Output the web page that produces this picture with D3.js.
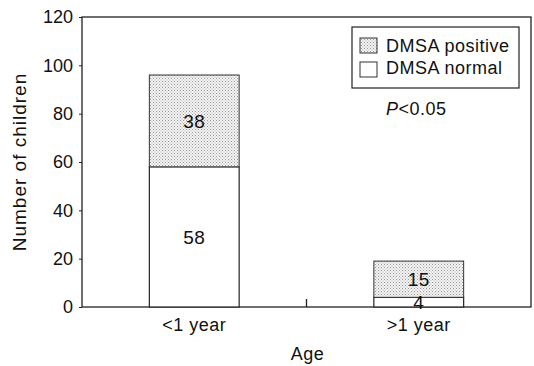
<!DOCTYPE html>
<html lang="en">
<head>
<meta charset="utf-8">
<title>DMSA by age</title>
<script src="https://cdn.jsdelivr.net/npm/d3@7"></script>
<style>
  body { margin: 0; background: #fff; }
  text { font-family: "Liberation Sans", Arial, sans-serif; fill: #111; letter-spacing: 0.5px; }
</style>
</head>
<body>
<script>
// data
var ages = ["<1 year", ">1 year"];
var normal = [58, 4];
var positive = [38, 15];
var yTicks = [0, 20, 40, 60, 80, 100, 120];
var legendLabels = ["DMSA positive", "DMSA normal"];

var w = 534, h = 366;
var plotLeft = 82, plotRight = 531, plotTop = 17, plotBottom = 307;

var svg = d3.select("body").append("svg")
  .attr("width", w)
  .attr("height", h);

// stipple pattern for the positive part
var defs = svg.append("defs");
var pat = defs.append("pattern")
  .attr("id", "dots")
  .attr("width", 3).attr("height", 3)
  .attr("patternUnits", "userSpaceOnUse");
pat.append("rect").attr("width", 3).attr("height", 3).attr("fill", "#f2f2f2");
pat.append("rect").attr("x", 0).attr("y", 0).attr("width", 1).attr("height", 1).attr("fill", "#9a9a9a");
pat.append("rect").attr("x", 1.5).attr("y", 1.5).attr("width", 1).attr("height", 1).attr("fill", "#b5b5b5");

var x = d3.scaleBand().domain(ages).range([plotLeft, plotRight])
  .paddingInner(0.6).paddingOuter(0.3);
var y = d3.scaleLinear().domain([0, 120]).range([plotBottom, plotTop]);

// frame
svg.append("rect")
  .attr("x", plotLeft).attr("y", plotTop)
  .attr("width", plotRight - plotLeft).attr("height", plotBottom - plotTop)
  .attr("fill", "none").attr("stroke", "#222").attr("stroke-width", 1.3);

// y axis
var yAxis = svg.append("g")
  .attr("transform", "translate(" + plotLeft + ",0)")
  .call(d3.axisLeft(y).tickValues(yTicks).tickSize(3).tickPadding(6));
yAxis.select(".domain").remove();
yAxis.selectAll("text").style("font-size", "18px").style("letter-spacing", "0px").attr("fill", "#111");
yAxis.selectAll("line").attr("stroke", "#222");

// x axis labels
var xAxis = svg.append("g")
  .attr("transform", "translate(0," + plotBottom + ")")
  .call(d3.axisBottom(x).tickSize(0).tickPadding(11));
xAxis.select(".domain").remove();
xAxis.selectAll("text").style("font-size", "18px").attr("fill", "#111");

// middle tick between the groups
var mid = (x(ages[0]) + x.bandwidth() + x(ages[1])) / 2;
svg.append("line")
  .attr("x1", mid).attr("x2", mid)
  .attr("y1", plotBottom).attr("y2", plotBottom - 8)
  .attr("stroke", "#222").attr("stroke-width", 1.3);

// bars
var bars = svg.append("g");
ages.forEach(function(a, i) {
  bars.append("rect")
    .attr("x", x(a)).attr("width", x.bandwidth())
    .attr("y", y(normal[i])).attr("height", y(0) - y(normal[i]))
    .attr("fill", "#fff").attr("stroke", "#222").attr("stroke-width", 1.2);
  bars.append("rect")
    .attr("x", x(a)).attr("width", x.bandwidth())
    .attr("y", y(normal[i] + positive[i])).attr("height", y(normal[i]) - y(normal[i] + positive[i]))
    .attr("fill", "url(#dots)").attr("stroke", "#333").attr("stroke-width", 1);
});

// value labels
ages.forEach(function(a, i) {
  var cx = x(a) + x.bandwidth() / 2;
  bars.append("text")
    .attr("x", cx).attr("y", y(normal[i] + positive[i] / 2))
    .attr("dy", "0.35em").attr("text-anchor", "middle")
    .style("font-size", "19px")
    .text(positive[i]);
  var ny = normal[i] > 10 ? y(normal[i] / 2) : y(0) - 5;
  bars.append("text")
    .attr("x", cx).attr("y", ny)
    .attr("dy", "0.35em").attr("text-anchor", "middle")
    .style("font-size", "19px")
    .text(normal[i]);
});

// axis titles
svg.append("text")
  .attr("transform", "translate(26," + ((plotTop + plotBottom) / 2) + ") rotate(-90)")
  .attr("text-anchor", "middle")
  .style("font-size", "19px")
  .style("letter-spacing", "1px")
  .text("Number of children");
svg.append("text")
  .attr("x", (plotLeft + plotRight) / 2 + 1).attr("y", 360)
  .attr("text-anchor", "middle")
  .style("font-size", "18px")
  .text("Age");

// legend
var lg = svg.append("g").attr("transform", "translate(352,27)");
lg.append("rect")
  .attr("width", 167).attr("height", 61)
  .attr("fill", "#fff").attr("stroke", "#222").attr("stroke-width", 1.2);
legendLabels.forEach(function(t, i) {
  lg.append("rect")
    .attr("x", 8).attr("y", 11 + i * 24)
    .attr("width", 17).attr("height", 15)
    .attr("fill", i === 0 ? "url(#dots)" : "#fff")
    .attr("stroke", "#333").attr("stroke-width", 1);
  lg.append("text")
    .attr("x", 34).attr("y", 25 + i * 22)
    .style("font-size", "18px")
    .text(t);
});

// p value
var p = svg.append("text")
  .attr("x", 386).attr("y", 115)
  .style("font-size", "18px");
p.append("tspan").style("font-style", "italic").text("P");
p.append("tspan").text("<0.05");
</script>
</body>
</html>
